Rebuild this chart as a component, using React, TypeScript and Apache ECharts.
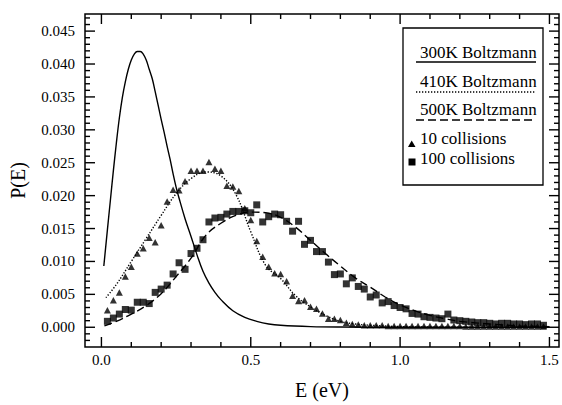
import React, { useEffect, useRef } from "react";
import * as echarts from "echarts";

const FONT = "Liberation Serif";

// Boltzmann curves
const e300 = [0.008, 0.02, 0.03, 0.04, 0.05, 0.06, 0.07, 0.08, 0.09, 0.10, 0.11, 0.12, 0.13, 0.14, 0.15, 0.16, 0.17, 0.18, 0.19, 0.20, 0.21, 0.22, 0.23, 0.24, 0.25, 0.26, 0.28, 0.30, 0.32, 0.34, 0.36, 0.38, 0.40, 0.44, 0.48, 0.52, 0.56, 0.60, 0.70, 0.80, 1.0, 1.2, 1.5];
const p300 = [0.0093, 0.0148, 0.0193, 0.0238, 0.0280, 0.0318, 0.0349, 0.0373, 0.0392, 0.0406, 0.0415, 0.0419, 0.0419, 0.0415, 0.0406, 0.0392, 0.0378, 0.0358, 0.0337, 0.0316, 0.0296, 0.0275, 0.0255, 0.0233, 0.0213, 0.0196, 0.0165, 0.0138, 0.0110, 0.0085, 0.0067, 0.0053, 0.0042, 0.0025, 0.0015, 0.0009, 0.0005, 0.0003, 0.0001, 0.00003, 0.0, 0.0, 0.0];

const e410 = [0.015, 0.05, 0.10, 0.15, 0.20, 0.25, 0.30, 0.35, 0.40, 0.45, 0.50, 0.55, 0.60, 0.65, 0.70, 0.75, 0.80, 0.85, 0.90, 1.0, 1.1, 1.3, 1.5];
const p410 = [0.0045, 0.0065, 0.0100, 0.0135, 0.0170, 0.0203, 0.0226, 0.0236, 0.0230, 0.0202, 0.0145, 0.0094, 0.0074, 0.0048, 0.0031, 0.0018, 0.0009, 0.0005, 0.0003, 0.0001, 0.00003, 0.0, 0.0];

const e500 = [0.01, 0.05, 0.10, 0.15, 0.20, 0.25, 0.30, 0.35, 0.40, 0.45, 0.50, 0.55, 0.60, 0.65, 0.70, 0.75, 0.80, 0.85, 0.90, 0.95, 1.00, 1.05, 1.10, 1.15, 1.20, 1.30, 1.40, 1.50];
const p500 = [0.0002, 0.0009, 0.0020, 0.0033, 0.0051, 0.0077, 0.0105, 0.0140, 0.0158, 0.0170, 0.0175, 0.0174, 0.0167, 0.0152, 0.0132, 0.0112, 0.0093, 0.0075, 0.0061, 0.0046, 0.0034, 0.0025, 0.0018, 0.0013, 0.0009, 0.0005, 0.0002, 0.0001];

// Simulation points
const collE = [0.02, 0.04, 0.06, 0.08, 0.10, 0.12, 0.14, 0.16, 0.18, 0.20, 0.22, 0.24, 0.26, 0.28, 0.30, 0.32, 0.34, 0.36, 0.38, 0.40, 0.42, 0.44, 0.46, 0.48, 0.50, 0.52, 0.54, 0.56, 0.58, 0.60, 0.62, 0.64, 0.66, 0.68, 0.70, 0.72, 0.74, 0.76, 0.78, 0.80, 0.82, 0.84, 0.86, 0.88, 0.90, 0.92, 0.94, 0.96, 0.98, 1.00, 1.02, 1.04, 1.06, 1.08, 1.10, 1.12, 1.14, 1.16, 1.18, 1.20, 1.22, 1.24, 1.26, 1.28, 1.30, 1.32, 1.34, 1.36, 1.38, 1.40, 1.42, 1.44, 1.46, 1.48];
const p10 = [
  0.0026, 0.0041, 0.0053, 0.0077, 0.0092,
  0.0112, 0.0120, 0.0136, 0.0129, 0.0155,
  0.0191, 0.0209, 0.0208, 0.0222, 0.0238,
  0.0238, 0.0238, 0.0251, 0.0241, 0.0238,
  0.0215, 0.0214, 0.0207, 0.0181, 0.0163,
  0.0131, 0.0107, 0.0092, 0.0082, 0.0081,
  0.0070, 0.0048, 0.0040, 0.0041, 0.0031,
  0.0028, 0.0021, 0.0013, 0.0013, 0.0011,
  0.0007, 0.0005, 0.0004, 0.0003, 0.0003,
  0.0003, 0.0003, 0.0002, 0.0002, 0.0002,
  0.0002, 0.0002, 0.0002, 0.0002, 0.0002,
  0.0002, 0.0002, 0.0002, 0.0002, 0.0002,
  0.0001, 0.0001, 0.0001, 0.0001, 0.0001,
  0.0001, 0.0001, 0.0001, 0.0001, 0.0001,
  0.0001, 0.0001, 0.0001, 0.0001,
];
const p100 = [
  0.0009, 0.0014, 0.0020, 0.0027, 0.0026,
  0.0038, 0.0038, 0.0036, 0.0053, 0.0058,
  0.0064, 0.0081, 0.0098, 0.0088, 0.0112,
  0.0120, 0.0133, 0.0160, 0.0166, 0.0167,
  0.0172, 0.0176, 0.0176, 0.0177, 0.0174,
  0.0186, 0.0160, 0.0168, 0.0172, 0.0171,
  0.0161, 0.0146, 0.0161, 0.0126, 0.0132,
  0.0115, 0.0115, 0.0099, 0.0080, 0.0081,
  0.0066, 0.0075, 0.0062, 0.0058, 0.0046,
  0.0049, 0.0037, 0.0039, 0.0033, 0.0030,
  0.0028, 0.0021, 0.0020, 0.0016, 0.0015,
  0.0014, 0.0013, 0.0020, 0.0011, 0.0010,
  0.0009, 0.0008, 0.0007, 0.0007, 0.0006,
  0.0005, 0.0006, 0.0006, 0.0005, 0.0005,
  0.0004, 0.0005, 0.0005, 0.0003,
];

// Axis ticks
const xMajor = [0, 0.5, 1.0, 1.5];
const xMinor = [0.1, 0.2, 0.3, 0.4, 0.6, 0.7, 0.8, 0.9, 1.1, 1.2, 1.3, 1.4];
const yMajor = [0, 0.005, 0.01, 0.015, 0.02, 0.025, 0.03, 0.035, 0.04, 0.045];
const yMinor = [-0.002, -0.001, 0.001, 0.002, 0.003, 0.004, 0.006, 0.007, 0.008, 0.009, 0.011, 0.012, 0.013, 0.014, 0.016, 0.017, 0.018, 0.019, 0.021, 0.022, 0.023, 0.024, 0.026, 0.027, 0.028, 0.029, 0.031, 0.032, 0.033, 0.034, 0.036, 0.037, 0.038, 0.039, 0.041, 0.042, 0.043, 0.044, 0.046, 0.047];

const legendItems = ["300K Boltzmann", "410K Boltzmann", "500K Boltzmann", "10 collisions", "100 collisions"];

const X_MIN = -0.055, X_MAX = 1.532, Y_MIN = -0.003, Y_MAX = 0.0476;

const zip = (a: number[], b: number[]) => a.map((v, i) => [v, b[i]]);

const LINE_W = 1.4;

function makeLegend(): any[] {
  const lx = 416, lx2 = 536, tx = 420;
  const txt = (s: string, y: number) => ({
    type: "text", x: tx, y, z: 11,
    style: { text: s, fontFamily: FONT, fontSize: 17, fill: "#000", verticalAlign: "middle", align: "left" },
  });
  return [
    { type: "rect", shape: { x: 403, y: 28, width: 140, height: 157 }, style: { fill: "#fff", stroke: "#000", lineWidth: 1.3 }, z: 10 },
    txt(legendItems[0], 52),
    { type: "line", shape: { x1: lx, y1: 62, x2: lx2, y2: 62 }, style: { stroke: "#000", lineWidth: LINE_W }, z: 11 },
    txt(legendItems[1], 81),
    { type: "line", shape: { x1: lx, y1: 92, x2: lx2, y2: 92 }, style: { stroke: "#000", lineWidth: LINE_W, lineDash: [1.3, 1.7] }, z: 11 },
    txt(legendItems[2], 109),
    { type: "line", shape: { x1: lx, y1: 120, x2: lx2, y2: 120 }, style: { stroke: "#000", lineWidth: LINE_W, lineDash: [8, 4] }, z: 11 },
    { type: "polygon", shape: { points: [[408, 147], [415.5, 147], [411.7, 140.5]] }, style: { fill: "#000" }, z: 11 },
    txt(legendItems[3], 138.5),
    { type: "rect", shape: { x: 408.5, y: 158.5, width: 7, height: 7 }, style: { fill: "#000" }, z: 11 },
    txt(legendItems[4], 158.5),
  ];
}

export default function App() {
  const ref = useRef<HTMLDivElement>(null);
  useEffect(() => {
    if (!ref.current) return;
    const chart = echarts.init(ref.current, null, { renderer: "svg" });
    const MAJ = 10, MIN = 5;

    chart.setOption({
      animation: false,
      backgroundColor: "#fff",
      grid: { left: 79, right: 3, top: 14, bottom: 46, containLabel: false, show: true, borderColor: "#000", borderWidth: 1.5, backgroundColor: "transparent" },
      xAxis: {
        type: "value",
        min: X_MIN,
        max: X_MAX,
        axisLine: { show: false },
        axisTick: { show: false },
        axisLabel: {
          show: true,
          customValues: xMajor,
          formatter: (v: number) => v.toFixed(1),
          fontFamily: FONT,
          fontSize: 15,
          color: "#000",
          margin: 5,
        },
        splitLine: { show: false },
        name: "E (eV)",
        nameLocation: "middle",
        nameGap: 33,
        nameTextStyle: { fontFamily: FONT, fontSize: 20, color: "#000" },
      },
      yAxis: {
        type: "value",
        min: Y_MIN,
        max: Y_MAX,
        axisLine: { show: false },
        axisTick: { show: false },
        axisLabel: {
          show: true,
          customValues: yMajor,
          formatter: (v: number) => v.toFixed(3),
          fontFamily: FONT,
          fontSize: 15,
          color: "#000",
          margin: 10,
        },
        splitLine: { show: false },
        name: "P(E)",
        nameLocation: "middle",
        nameGap: 57,
        nameRotate: 90,
        nameTextStyle: { fontFamily: FONT, fontSize: 20, color: "#000" },
      },
      series: [
        { name: legendItems[0], type: "line", data: zip(e300, p300), showSymbol: false, smooth: 0.4, lineStyle: { color: "#000", width: LINE_W }, z: 2 },
        { name: legendItems[1], type: "line", data: zip(e410, p410), showSymbol: false, smooth: 0.4, lineStyle: { color: "#000", width: LINE_W, type: [1.3, 1.7] }, z: 2 },
        { name: legendItems[2], type: "line", data: zip(e500, p500), showSymbol: false, smooth: 0.4, lineStyle: { color: "#000", width: LINE_W, type: [8, 4] }, z: 2 },
        { name: legendItems[3], type: "scatter", data: zip(collE, p10), symbol: "triangle", symbolSize: [7, 6.5], itemStyle: { color: "#000" }, z: 3 },
        { name: legendItems[4], type: "scatter", data: zip(collE, p100), symbol: "rect", symbolSize: 7, itemStyle: { color: "#000" }, z: 4 },
      ],
    });

    // Frame ticks positioned through the chart's own scales
    const tickEls: any[] = [];
    try {
      const toPx = (v: number[]) => chart.convertToPixel({ gridIndex: 0 }, v) as number[];
      const pMin = toPx([X_MIN, Y_MIN]);
      const pMax = toPx([X_MAX, Y_MAX]);
      const xl = pMin[0], yb = pMin[1], xr = pMax[0], yt = pMax[1];
      const mk = (x1: number, y1: number, x2: number, y2: number) =>
        ({ type: "line", z: 12, shape: { x1, y1, x2, y2 }, style: { stroke: "#000", lineWidth: 1.4 } });
      const addX = (v: number, len: number) => {
        const px = toPx([v, 0])[0];
        tickEls.push(mk(px, yb, px, yb - len));
        tickEls.push(mk(px, yt, px, yt + len));
      };
      const addY = (v: number, len: number) => {
        const py = toPx([0, v])[1];
        tickEls.push(mk(xl, py, xl + len, py));
        tickEls.push(mk(xr, py, xr - len, py));
      };
      xMajor.forEach((v) => addX(v, MAJ));
      xMinor.forEach((v) => addX(v, MIN));
      yMajor.forEach((v) => addY(v, MAJ));
      yMinor.forEach((v) => addY(v, MIN));
    } catch (e) {
      // ignore
    }
    chart.setOption({ graphic: { elements: [...makeLegend(), ...tickEls] } });

    return () => chart.dispose();
  }, []);
  return <div ref={ref} style={{ width: 562, height: 405, position: "absolute", left: 0, top: 0 }} />;
}
